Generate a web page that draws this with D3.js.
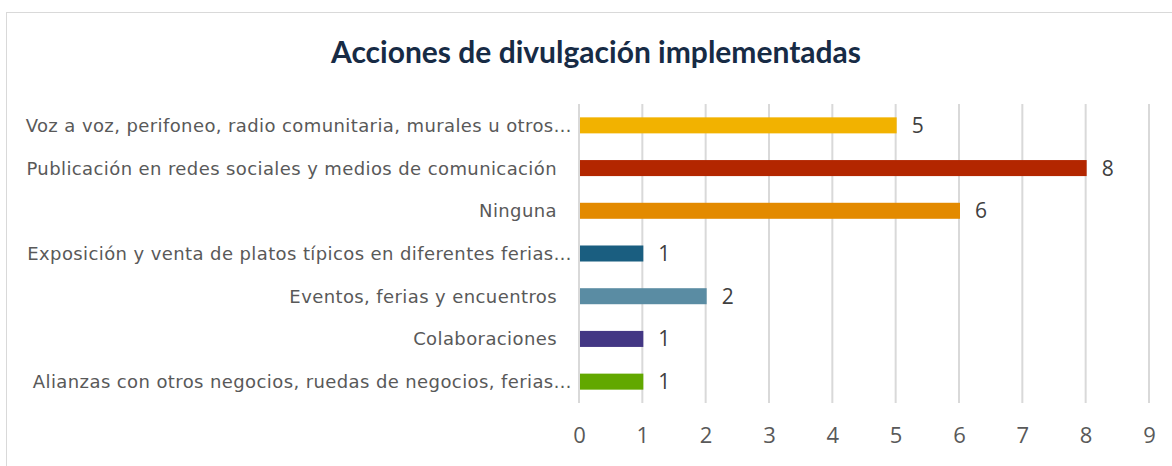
<!DOCTYPE html>
<html>
<head>
<meta charset="utf-8">
<script src="https://cdn.jsdelivr.net/npm/d3@7"></script>
<style>
  body { margin: 0; background: #fff; }
</style>
</head>
<body>
<div id="chart"></div>
<script>
// chart data
var categories = [
  "Voz a voz, perifoneo, radio comunitaria, murales u otros…",
  "Publicación en redes sociales y medios de comunicación",
  "Ninguna",
  "Exposición y venta de platos típicos en diferentes ferias…",
  "Eventos, ferias y encuentros",
  "Colaboraciones",
  "Alianzas con otros negocios, ruedas de negocios, ferias…"
];
var values = [5, 8, 6, 1, 2, 1, 1];
var barColors = ["#f2b200", "#b32600", "#e38a00", "#1a5e80", "#5a8ca3", "#433784", "#62a800"];
var xTicks = [0, 1, 2, 3, 4, 5, 6, 7, 8, 9];
var title = "Acciones de divulgación implementadas";

var width = 1172, height = 466;
var margin = {top: 104, right: 23, bottom: 63, left: 579};
var innerW = width - margin.left - margin.right,
    innerH = height - margin.top - margin.bottom;

var svg = d3.select("#chart").append("svg")
    .attr("width", width)
    .attr("height", height);

// outer frame
svg.append("rect")
    .attr("x", 6.5).attr("y", 12.5)
    .attr("width", 1180).attr("height", 480)
    .attr("fill", "none")
    .attr("stroke", "#d9d9d9");

svg.append("text")
    .attr("x", 596).attr("y", 63)
    .attr("text-anchor", "middle")
    .style("font-family", "Lato, sans-serif")
    .style("font-weight", "bold")
    .style("font-size", "30px")
    .style("fill", "#172b45")
    .text(title);

var g = svg.append("g")
    .attr("transform", "translate(" + margin.left + "," + margin.top + ")");

var x = d3.scaleLinear().domain([0, 9]).range([0, innerW]);
var y = d3.scaleBand().domain(categories).range([0, innerH]).paddingInner(0.625).paddingOuter(0.3125);

// gridlines
g.selectAll(".grid")
    .data(xTicks)
  .enter().append("line")
    .attr("x1", function(d) { return x(d); })
    .attr("x2", function(d) { return x(d); })
    .attr("y1", 0).attr("y2", innerH)
    .attr("stroke", "#d9d9d9")
    .attr("stroke-width", 2);

// bars
g.selectAll(".bar")
    .data(values)
  .enter().append("rect")
    .attr("x", x(0) + 1)
    .attr("y", function(d, i) { return y(categories[i]); })
    .attr("width", function(d) { return x(d) - x(0); })
    .attr("height", y.bandwidth())
    .attr("fill", function(d, i) { return barColors[i]; });

// value labels
g.selectAll(".val")
    .data(values)
  .enter().append("text")
    .attr("x", function(d) { return x(d) + 16; })
    .attr("y", function(d, i) { return y(categories[i]) + y.bandwidth() / 2; })
    .attr("dy", "0.36em")
    .style("font-family", "'Open Sans', sans-serif")
    .style("font-size", "21px")
    .style("fill", "#404040")
    .text(function(d) { return d; });

// category labels (full labels sit a bit further left than truncated ones)
g.selectAll(".cat")
    .data(categories)
  .enter().append("text")
    .attr("x", function(d) { return /…$/.test(d) ? -7 : -22; })
    .attr("y", function(d) { return y(d) + y.bandwidth() / 2; })
    .attr("dy", "0.36em")
    .attr("text-anchor", "end")
    .style("font-family", "'DejaVu Sans', sans-serif")
    .style("font-size", "18px")
    .style("letter-spacing", "0.4px")
    .style("fill", "#595959")
    .text(function(d) { return d; });

// x axis
var xAxis = g.append("g")
    .attr("transform", "translate(0," + innerH + ")")
    .call(d3.axisBottom(x).tickValues(xTicks).tickSize(0).tickPadding(24));
xAxis.select(".domain").remove();
xAxis.selectAll("text")
    .style("font-family", "'Open Sans', sans-serif")
    .style("font-size", "22px")
    .style("fill", "#595959");
</script>
</body>
</html>
